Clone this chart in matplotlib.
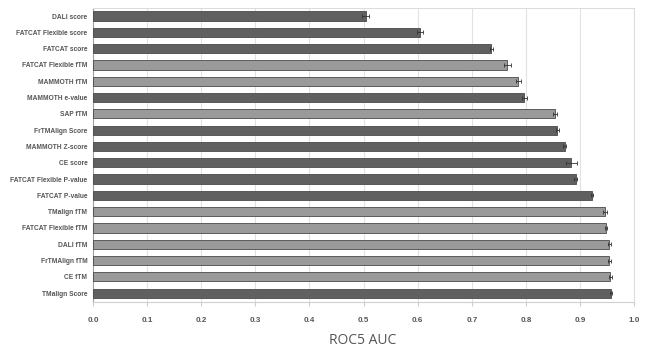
import matplotlib
matplotlib.use("Agg")
import matplotlib.pyplot as plt
import numpy as np

# methods, top to bottom
methods = ["DALI score", "FATCAT Flexible score", "FATCAT score", "FATCAT Flexible fTM",
           "MAMMOTH fTM", "MAMMOTH e-value", "SAP fTM", "FrTMAlign Score",
           "MAMMOTH Z-score", "CE score", "FATCAT Flexible P-value", "FATCAT P-value",
           "TMalign fTM", "FATCAT Flexible fTM", "DALI fTM", "FrTMAlign fTM",
           "CE fTM", "TMalign Score"]
auc = [0.504, 0.604, 0.736, 0.766, 0.786, 0.797, 0.854, 0.858, 0.872, 0.884,
       0.892, 0.923, 0.946, 0.948, 0.954, 0.954, 0.956, 0.958]
err = [0.006, 0.006, 0.003, 0.006, 0.005, 0.005, 0.003, 0.003, 0.003, 0.010,
       0.003, 0.002, 0.004, 0.002, 0.003, 0.003, 0.003, 0.002]
is_ftm = [False, False, False, True, True, False, True, False, False, False,
          False, False, True, True, True, True, True, False]

colors = ["#9a9a9a" if f else "#606060" for f in is_ftm]
y = np.arange(len(methods))

fig = plt.figure(figsize=(6.49, 3.58), dpi=100)
ax = fig.add_axes([0.1433, 0.156, 0.8337, 0.822])

ax.barh(y, auc, height=0.56, color=colors, edgecolor="#4a4a4a", linewidth=0.6,
        xerr=err, error_kw=dict(ecolor="#333333", elinewidth=0.6, capsize=1.5, capthick=0.6),
        zorder=3)

ax.set_xlim(0, 1.0)
ax.set_ylim(len(methods) - 0.45, -0.5)
ax.set_xticks(np.arange(0, 1.01, 0.1))
ax.set_xticklabels([f"{v:.1f}" for v in np.arange(0, 1.01, 0.1)],
                   fontsize=5.8, fontweight="bold", color="#555555", family="Liberation Sans")
ax.set_yticks(y)
ax.set_yticklabels(methods, fontsize=4.8, fontweight="bold", color="#555555",
                   family="Liberation Sans")
ax.tick_params(axis="y", length=0, pad=4)
ax.tick_params(axis="x", length=3, color="#cccccc", pad=8)

ax.grid(axis="x", color="#e2e2e2", linewidth=0.8, zorder=0)
for side in ["top", "right"]:
    ax.spines[side].set_color("#dddddd")
    ax.spines[side].set_linewidth(0.8)
ax.spines["bottom"].set_color("#d0d0d0")
ax.spines["left"].set_color("#a0a0a0")
ax.spines["left"].set_linewidth(0.8)

fig.text(0.559, 0.05, "ROC5 AUC", ha="center", va="center", fontsize=10,
         color="#555555", family="Open Sans")

fig.savefig("out.png", dpi=100)
